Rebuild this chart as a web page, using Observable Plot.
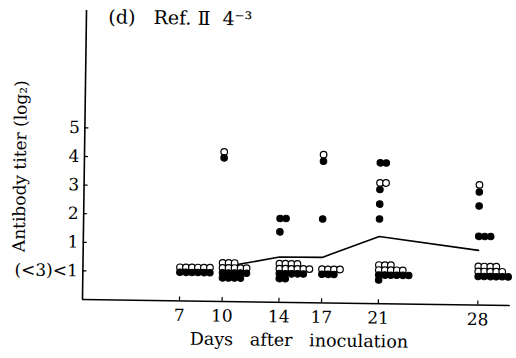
<!DOCTYPE html>
<html>
<head>
<meta charset="utf-8">
<script src="https://cdn.jsdelivr.net/npm/d3@7"></script>
<script src="https://cdn.jsdelivr.net/npm/@observablehq/plot@0.6"></script>
<style>
  body { margin: 0; background: #fff; }
  #chart { width: 516px; height: 358px; transform: rotate(0.8deg); transform-origin: 80px 298px; }
  #chart svg { overflow: visible; }
</style>
</head>
<body>
<div id="chart"></div>
<script>
// Sampling days
const days = [7, 10, 14, 17, 21, 28];

// Animals below the detection limit (<1), counted per row (rows listed top to bottom)
const openRowsBelow   = [[6], [3, 5], [4, 6], [4], [3, 5], [4, 5]];
const filledRowsBelow = [[6], [5, 4], [5, 2], [3], [6, 1], [6]];

// Individual titres above the detection limit
const openDays    = [10, 17, 21, 21, 28];
const openTiters  = [4.23, 4.18, 3.22, 3.22, 3.2];
const filledDays   = [10, 14, 14, 14, 17, 17, 21, 21, 21, 21, 21, 28, 28, 28, 28, 28];
const filledTiters = [4.02, 1.93, 1.93, 1.46, 3.95, 1.93, 3.92, 3.92, 2.99, 2.48, 1.96, 2.95, 2.46, 1.4, 1.4, 1.4];

// Mean titre
const meanDays   = [10, 14, 17, 21, 28];
const meanTiters = [0.2, 0.58, 0.59, 1.35, 0.91];

// Axis ticks
const yTicks = [0, 1, 2, 3, 4, 5];
const yTickLabels = ["(<3)<1", "1", "2", "3", "4", "5"];

// Wide, typeset-style spacing between words
const sp = (n) => "\u00A0".repeat(n);
const title = "(d)" + sp(3) + "Ref." + sp(1) + "\u2161" + sp(2) + "4\u207B\u00B3";
const yLabel = "Antibody titer (log\u2082)";
const xLabel = "Days" + sp(3) + "after" + sp(3) + "inoculation";

// Frame geometry
const W = 516, H = 358;
const mL = 82, mR = 6, mT = 10, mB = 59;
const xDom = [0.17, 30.3], yDom = [-1, 9.1];
const kx = (W - mL - mR) / (xDom[1] - xDom[0]);   // px per day
const ky = (H - mT - mB) / (yDom[1] - yDom[0]);   // px per log2 unit
const colGap = 6, rowGap = 5;                       // px between stacked dots

// Above-limit dots: equal values sit side by side, starting at the day tick
function spread(ds, ts) {
  const seen = new Map();
  return ds.map((d, i) => {
    const key = d + "|" + ts[i];
    const n = seen.get(key) || 0;
    seen.set(key, n + 1);
    return {x: d + n * colGap / kx, y: ts[i]};
  });
}
// Below-limit dots: filled rows hang down from the <1 level, open rows stack above it
function block(rowsPerDay, open) {
  const out = [];
  rowsPerDay.forEach((rows, di) => {
    const d = days[di];
    rows.forEach((count, r) => {
      const level = open ? (rows.length - r) : -r;
      for (let c = 0; c < count; c++) out.push({x: d + c * colGap / kx, y: level * rowGap / ky});
    });
  });
  return out;
}

const openPts = [...block(openRowsBelow, true), ...spread(openDays, openTiters)];
const filledPts = [...block(filledRowsBelow, false), ...spread(filledDays, filledTiters)];
const mean = meanDays.map((d, i) => ({x: d, y: meanTiters[i]}));

const serif = "'DejaVu Serif', serif";

const chart = Plot.plot({
  width: W, height: H,
  marginLeft: mL, marginRight: mR, marginTop: mT, marginBottom: mB,
  style: {fontFamily: serif, fontSize: "17px", color: "#000", background: "#fff"},
  x: {domain: xDom, axis: null},
  y: {domain: yDom, axis: null},
  marks: [
    Plot.axisX({ticks: days, label: null, tickSize: -4, tickPadding: 12, strokeWidth: 1.2, fontSize: 17}),
    Plot.axisY({ticks: yTicks, label: null, tickFormat: (d) => yTickLabels[yTicks.indexOf(d)], tickSize: -4, tickPadding: 9, strokeWidth: 1.2, fontSize: 17}),
    Plot.ruleY([yDom[0]], {stroke: "#000", strokeWidth: 1.6}),
    Plot.ruleX([xDom[0]], {stroke: "#000", strokeWidth: 1.6}),
    Plot.line(mean, {x: "x", y: "y", stroke: "#000", strokeWidth: 1.6}),
    Plot.dot(openPts, {x: "x", y: "y", r: 3.3, fill: "#fff", stroke: "#000", strokeWidth: 1.2}),
    Plot.dot(filledPts, {x: "x", y: "y", r: 3.3, fill: "#000", stroke: "#000", strokeWidth: 1}),
    Plot.text([title], {frameAnchor: "top-left", textAnchor: "start", lineAnchor: "middle", dx: 22, dy: 6.5, fontSize: 19}),
    Plot.text([yLabel], {frameAnchor: "left", textAnchor: "middle", lineAnchor: "middle", rotate: -90, dx: -64, dy: 12, fontSize: 17}),
    Plot.text([xLabel], {frameAnchor: "bottom", textAnchor: "middle", lineAnchor: "middle", dx: 3, dy: 38, fontSize: 17.5})
  ]
});
document.getElementById("chart").append(chart);
</script>
</body>
</html>
